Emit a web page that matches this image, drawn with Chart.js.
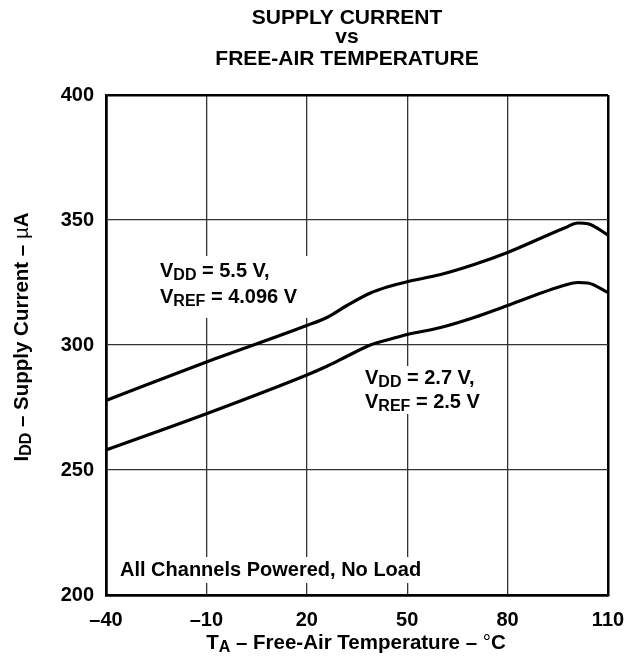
<!DOCTYPE html>
<html>
<head>
  <title>Supply Current vs Free-Air Temperature</title>
  <script src="https://cdn.jsdelivr.net/npm/chart.js"></script>
  <style>
    body {
      margin: 0;
      background: #fff;
    }
  </style>
</head>
<body>
  <canvas id="iddChart" width="630" height="662"></canvas>

  <script>
    // values
    const temps = [-40, -10, 20, 26, 32, 39, 44, 50, 60, 70, 80, 97, 101, 104, 110];
    const idd55 = [277.8, 293.2, 307.8, 311, 315.8, 320.8, 323.2, 325.3, 328.2, 332.2, 337, 346.8, 348.8, 348.5, 344];
    const idd27 = [258, 272.5, 288, 291.5, 295.5, 300, 302, 304.2, 307, 311, 315.8, 323.9, 325, 324.8, 321];
    const xTicks = [-40, -10, 20, 50, 80, 110];
    const yTicks = [200, 250, 300, 350, 400];

    const FAM = '"Liberation Sans", Arial, Helvetica, sans-serif';

    // draw text made of parts: [text, kind] where kind is 'n', 'sub' or 'sym'
    function rich(ctx, parts, x, y, size, align) {
      const fontFor = k => k === 'sub' ? `bold ${Math.round(size * 0.78)}px ${FAM}`
        : k === 'sym' ? `${size}px ${FAM}` : `bold ${size}px ${FAM}`;
      let w = 0;
      parts.forEach(p => { ctx.font = fontFor(p[1]); w += ctx.measureText(p[0]).width; });
      let cx = align === 'center' ? x - w / 2 : x;
      ctx.textAlign = 'left';
      ctx.textBaseline = 'alphabetic';
      parts.forEach(p => {
        ctx.font = fontFor(p[1]);
        ctx.fillText(p[0], cx, p[1] === 'sub' ? y + size * 0.17 : y);
        cx += ctx.measureText(p[0]).width;
      });
    }

    function whiteBox(ctx, x0, y0, x1, y1) {
      ctx.fillStyle = '#fff';
      ctx.fillRect(x0, y0, x1 - x0, y1 - y0);
      ctx.fillStyle = '#000';
    }

    const notes = {
      id: 'notes',
      beforeDatasetsDraw(chart) {
        const ctx = chart.ctx;
        ctx.save();
        whiteBox(ctx, 145, 256, 314, 318);
        rich(ctx, [['V', 'n'], ['DD', 'sub'], [' = 5.5 V,', 'n']], 160, 277, 20);
        rich(ctx, [['V', 'n'], ['REF', 'sub'], [' = 4.096 V', 'n']], 160, 303, 20);

        whiteBox(ctx, 358, 366, 503, 414);
        rich(ctx, [['V', 'n'], ['DD', 'sub'], [' = 2.7 V,', 'n']], 365, 384, 20);
        rich(ctx, [['V', 'n'], ['REF', 'sub'], [' = 2.5 V', 'n']], 365, 408, 20);

        whiteBox(ctx, 110, 557, 440, 583);
        rich(ctx, [['All Channels Powered, No Load', 'n']], 120, 576, 20);
        ctx.restore();
      },
      afterDraw(chart) {
        const ctx = chart.ctx;
        ctx.save();
        ctx.fillStyle = '#000';
        rich(ctx, [['SUPPLY CURRENT', 'n']], 347, 24, 21, 'center');
        rich(ctx, [['vs', 'n']], 347, 43, 21, 'center');
        rich(ctx, [['FREE-AIR TEMPERATURE', 'n']], 347, 65, 21, 'center');

        rich(ctx, [['T', 'n'], ['A', 'sub'], [' \u2013 Free-Air Temperature \u2013 ', 'n'], ['\u00b0', 'sym'], ['C', 'n']], 356, 649, 20.5, 'center');

        ctx.translate(28, 337);
        ctx.rotate(-Math.PI / 2);
        rich(ctx, [['I', 'n'], ['DD', 'sub'], [' \u2013 Supply Current \u2013 ', 'n'], ['\u00b5', 'sym'], ['A', 'n']], 0, 0, 20.5, 'center');
        ctx.restore();
      }
    };

    const edge = (vals) => (c) => (c.tick && (c.tick.value === vals[0] || c.tick.value === vals[vals.length - 1])) ? 2.5 : 1.3;
    const edgeColor = (vals) => (c) => (c.tick && (c.tick.value === vals[0] || c.tick.value === vals[vals.length - 1])) ? '#000' : '#333';

    new Chart(document.getElementById('iddChart').getContext('2d'), {
      type: 'line',
      data: {
        datasets: [
          {
            label: 'VDD = 5.5 V, VREF = 4.096 V',
            data: temps.map((t, i) => ({ x: t, y: idd55[i] })),
            borderColor: '#000',
            borderWidth: 3.2,
            pointRadius: 0,
            cubicInterpolationMode: 'monotone',
            fill: false
          },
          {
            label: 'VDD = 2.7 V, VREF = 2.5 V',
            data: temps.map((t, i) => ({ x: t, y: idd27[i] })),
            borderColor: '#000',
            borderWidth: 3.2,
            pointRadius: 0,
            cubicInterpolationMode: 'monotone',
            fill: false
          }
        ]
      },
      options: {
        responsive: false,
        animation: false,
        layout: { padding: { top: 95, right: 22, left: 0, bottom: 0 } },
        plugins: {
          legend: { display: false },
          tooltip: { enabled: false }
        },
        scales: {
          x: {
            type: 'linear',
            min: xTicks[0],
            max: xTicks[xTicks.length - 1],
            afterFit: s => {
              s.height = 67;
              // labels fit in the padding, keep the plot edge fixed
              s.paddingLeft = 0;
              s.paddingRight = 0;
            },
            afterBuildTicks: s => { s.ticks = xTicks.map(v => ({ value: v })); },
            ticks: {
              color: '#000',
              padding: 13,
              maxRotation: 0,
              font: { family: FAM, size: 20, weight: 'bold' },
              callback: v => v < 0 ? '\u2013' + Math.abs(v) : String(v)
            },
            grid: { drawTicks: false, lineWidth: edge(xTicks), color: edgeColor(xTicks) },
            border: { color: '#000', width: 2.5 }
          },
          y: {
            min: yTicks[0],
            max: yTicks[yTicks.length - 1],
            afterFit: s => { s.width = 106; },
            afterBuildTicks: s => { s.ticks = yTicks.map(v => ({ value: v })); },
            ticks: {
              color: '#000',
              padding: 12,
              font: { family: FAM, size: 20, weight: 'bold' }
            },
            grid: { drawTicks: false, lineWidth: edge(yTicks), color: edgeColor(yTicks) },
            border: { color: '#000', width: 2.5 }
          }
        }
      },
      plugins: [notes]
    });
  </script>
</body>
</html>
